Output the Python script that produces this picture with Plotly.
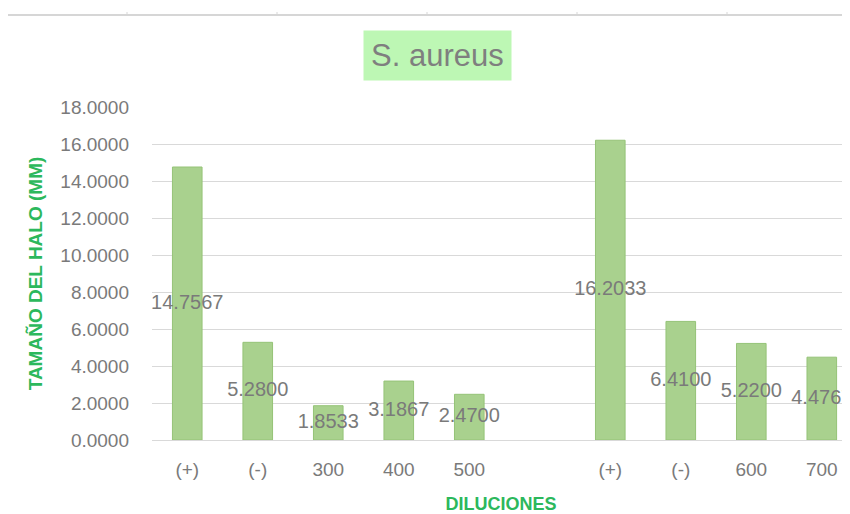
import plotly.graph_objects as go

categories = ["(+)", "(-)", "300", "400", "500", "", "(+)", "(-)", "600", "700"]
values = [14.7567, 5.2800, 1.8533, 3.1867, 2.4700, None, 16.2033, 6.4100, 5.2200, 4.4767]
y_ticks = [0, 2, 4, 6, 8, 10, 12, 14, 16, 18]

title_text = "S. aureus"
x_title = "DILUCIONES"
y_title = "TAMAÑO DEL HALO (MM)"

OFF = 8  # page body margin
W, H = 850 - OFF, 514 - OFF
ML, MR, MT, MB = 152 - OFF, 0, 107 - OFF, 74
PW, PH = W - ML - MR, H - MT - MB

GRAY = "#7a7a7a"
GREEN = "#2cb85c"
FONT = "Liberation Sans, Arial, sans-serif"

xs = list(range(len(categories)))
bx = [x for x, v in zip(xs, values) if v is not None]
bv = [v for v in values if v is not None]

fig = go.Figure()
fig.add_trace(go.Bar(
    x=bx, y=bv, width=0.42,
    marker=dict(color="#a9d18e", line=dict(color="#95c377", width=1)),
    hoverinfo="y", showlegend=False,
))
fig.add_trace(go.Scatter(
    x=bx, y=[v / 2 for v in bv], mode="text",
    text=[f"{v:.4f}" for v in bv],
    textfont=dict(family=FONT, size=20, color=GRAY),
    textposition="middle center", hoverinfo="skip", showlegend=False,
    cliponaxis=False,
))

# helpers: screen pixel -> paper coords
def px_x(p):
    return (p - OFF - ML) / PW

def px_y(p):
    return (H + OFF - MB - p) / PH

shapes = [dict(type="line", xref="paper", yref="paper",
               x0=px_x(8), x1=px_x(850), y0=px_y(15), y1=px_y(15),
               line=dict(color="#d6d6d6", width=2))]
for t in [127, 277, 427, 577, 727]:
    shapes.append(dict(type="line", xref="paper", yref="paper",
                       x0=px_x(t), x1=px_x(t), y0=px_y(15), y1=px_y(12),
                       line=dict(color="#d6d6d6", width=1)))

fig.update_layout(
    width=W, height=H,
    margin=dict(l=ML, r=MR, t=MT, b=MB),
    paper_bgcolor="white", plot_bgcolor="white",
    font=dict(family=FONT, color=GRAY),
    shapes=shapes,
    annotations=[dict(
        text=title_text, xref="paper", yref="paper",
        x=px_x(437), y=px_y(55.5), xanchor="center", yanchor="middle",
        showarrow=False, bgcolor="#bdf7b4",
        font=dict(family=FONT, size=31, color="#7f7f7f"),
        borderpad=7,
    )],
    xaxis=dict(
        range=[-0.5, 9.4], tickmode="array", tickvals=xs, ticktext=categories,
        showgrid=False, zeroline=False, showline=False, ticks="",
        tickfont=dict(family=FONT, size=19, color=GRAY),
        ticklabelstandoff=16,
        title=dict(text=x_title, standoff=22,
                   font=dict(family=FONT, size=18, color=GREEN, weight="bold")),
        fixedrange=True,
    ),
    yaxis=dict(
        range=[0, 18], tickmode="array", tickvals=y_ticks, tickformat=".4f",
        showgrid=True, gridcolor="#d9d9d9", gridwidth=1,
        zeroline=True, zerolinecolor="#d9d9d9", zerolinewidth=1,
        showline=False, ticks="",
        tickfont=dict(family=FONT, size=19, color=GRAY),
        ticklabelstandoff=22,
        title=dict(text=y_title, standoff=12,
                   font=dict(family=FONT, size=19, color=GREEN, weight="bold")),
        fixedrange=True,
    ),
    bargap=0.58,
)

fig.write_html("out.html")
